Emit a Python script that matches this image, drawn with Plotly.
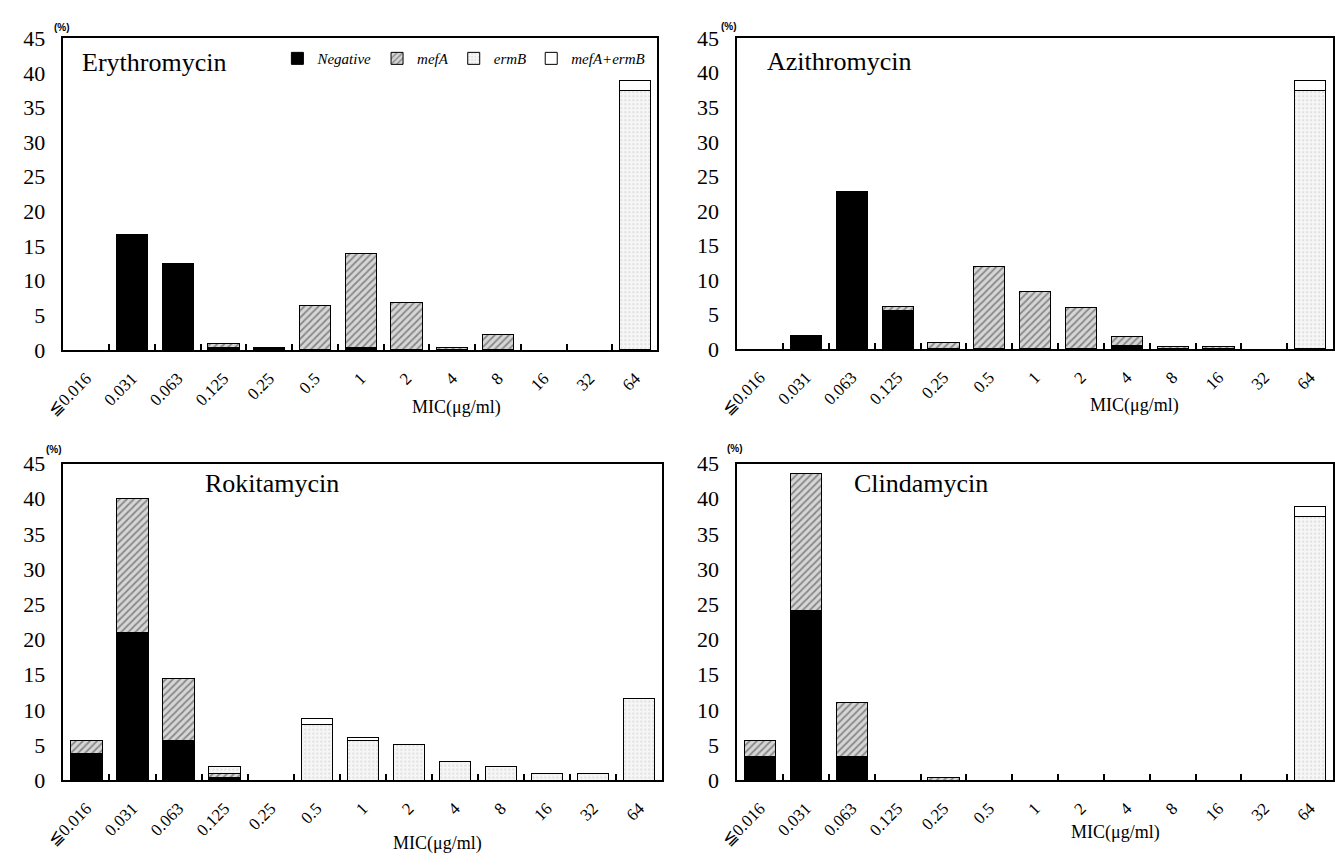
import plotly.graph_objects as go

categories = ["≦0.016", "0.031", "0.063", "0.125", "0.25", "0.5", "1", "2", "4", "8", "16", "32", "64"]
series_names = ["Negative", "mefA", "ermB", "mefA+ermB"]

# Erythromycin
ery_negative = [0, 16.7, 12.5, 0.3, 0.3, 0, 0.3, 0, 0, 0, 0, 0, 0]
ery_mefA     = [0, 0, 0, 0.6, 0, 6.4, 13.6, 6.8, 0.3, 2.2, 0, 0, 0]
ery_ermB     = [0, 0, 0, 0, 0, 0, 0, 0, 0, 0, 0, 0, 37.4]
ery_both     = [0, 0, 0, 0, 0, 0, 0, 0, 0, 0, 0, 0, 1.5]

# Azithromycin
azi_negative = [0, 1.9, 22.8, 5.6, 0, 0, 0, 0, 0.5, 0, 0, 0, 0]
azi_mefA     = [0, 0, 0, 0.5, 0.9, 12.0, 8.3, 6.0, 1.3, 0.3, 0.3, 0, 0]
azi_ermB     = [0, 0, 0, 0, 0, 0, 0, 0, 0, 0, 0, 0, 37.4]
azi_both     = [0, 0, 0, 0, 0, 0, 0, 0, 0, 0, 0, 0, 1.5]

# Rokitamycin
rok_negative = [3.8, 21.0, 5.6, 0.4, 0, 0, 0, 0, 0, 0, 0, 0, 0]
rok_mefA     = [1.8, 19.0, 8.8, 0.5, 0, 0, 0, 0, 0, 0, 0, 0, 0]
rok_ermB     = [0, 0, 0, 1.0, 0, 7.9, 5.6, 5.1, 2.7, 1.9, 0.9, 0.9, 11.6]
rok_both     = [0, 0, 0, 0, 0, 0.9, 0.4, 0, 0, 0, 0, 0, 0]

# Clindamycin
cli_negative = [3.3, 24.1, 3.3, 0, 0, 0, 0, 0, 0, 0, 0, 0, 0]
cli_mefA     = [2.3, 19.5, 7.8, 0, 0.4, 0, 0, 0, 0, 0, 0, 0, 0]
cli_ermB     = [0, 0, 0, 0, 0, 0, 0, 0, 0, 0, 0, 0, 37.5]
cli_both     = [0, 0, 0, 0, 0, 0, 0, 0, 0, 0, 0, 0, 1.4]

panels = [
    ("Erythromycin", [ery_negative, ery_mefA, ery_ermB, ery_both]),
    ("Azithromycin", [azi_negative, azi_mefA, azi_ermB, azi_both]),
    ("Rokitamycin", [rok_negative, rok_mefA, rok_ermB, rok_both]),
    ("Clindamycin", [cli_negative, cli_mefA, cli_ermB, cli_both]),
]

W, H = 1335, 867
# pixel geometry of each plot area: (left, right, y_of_zero, y_of_45)
geom = [
    (46, 648, 348, 27),
    (729, 1333, 347, 27),
    (46, 653, 791, 465),
    (729, 1333, 791, 465),
]
xranges = [[-0.5, 12.48], [-0.5, 12.5], [-0.5, 12.5], [-0.5, 12.5]]
title_pos = [(0.028, 41.5), (0.046, 41.6), (0.233, 42.2), (0.193, 42.2)]
mic_px = [(444, 407), (1132, 405), (425, 856), (1112, 845)]
pct_px = [(45, 16), (721, 15), (36, 451), (727, 449)]

SERIF = "Liberation Serif"

styles = [
    dict(color="black", line=dict(color="black", width=1)),
    dict(color="#cfcfcf", line=dict(color="black", width=1),
         pattern=dict(shape="/", fgcolor="#3a3a3a", bgcolor="#d6d6d6", size=5, solidity=0.35)),
    dict(color="#f4f4f4", line=dict(color="black", width=1),
         pattern=dict(shape=".", fgcolor="#8a8a8a", bgcolor="#f6f6f6", size=4, solidity=0.12)),
    dict(color="white", line=dict(color="black", width=1)),
]

fig = go.Figure()
annotations = []
layout_axes = {}
for i, (name, series) in enumerate(panels):
    k = "" if i == 0 else str(i + 1)
    xa, ya = "x" + k, "y" + k
    for j, vals in enumerate(series):
        fig.add_trace(go.Bar(
            x=categories, y=[v if v else None for v in vals],
            name="<i>%s</i>" % series_names[j],
            xaxis=xa, yaxis=ya, marker=styles[j],
            showlegend=(i == 0), legendgroup=series_names[j],
        ))
    l, r, y0, y45 = geom[i]
    layout_axes["xaxis" + k] = dict(
        domain=[l / W, r / W], anchor=ya, type="category",
        categoryorder="array", categoryarray=categories,
        range=xranges[i], tickangle=-45, ticks="inside", tickson="boundaries",
        ticklen=6, tickcolor="black", tickwidth=1.5,
        showline=True, linecolor="black", linewidth=1.5, mirror=True,
        showgrid=False, zeroline=False, ticklabelstandoff=10,
        tickfont=dict(family=SERIF, size=17, color="black"),
    )
    layout_axes["yaxis" + k] = dict(
        domain=[1 - y0 / H, 1 - y45 / H], anchor=xa,
        range=[0, 45], dtick=5, ticks="",
        showline=True, linecolor="black", linewidth=1.5, mirror=True,
        showgrid=False, zeroline=False, ticklabelstandoff=12,
        tickfont=dict(family=SERIF, size=22, color="black"),
    )
    tx, ty = title_pos[i]
    annotations.append(dict(
        text=name, xref=xa + " domain", yref=ya, x=tx, y=ty,
        xanchor="left", yanchor="middle", showarrow=False,
        font=dict(family=SERIF, size=26, color="black"),
    ))
    mx, my = mic_px[i]
    annotations.append(dict(
        text="MIC(μg/ml)", xref="paper", yref="paper", x=mx / W, y=1 - my / H,
        xanchor="center", yanchor="middle", showarrow=False,
        font=dict(family=SERIF, size=18, color="black"),
    ))
    px_, py_ = pct_px[i]
    annotations.append(dict(
        text="<b>(%)</b>", xref="paper", yref="paper", x=px_ / W, y=1 - py_ / H,
        xanchor="center", yanchor="middle", showarrow=False,
        font=dict(family="Liberation Sans", size=10, color="black"),
    ))

fig.update_layout(
    width=W, height=H,
    margin=dict(l=0, r=0, t=0, b=0),
    paper_bgcolor="white", plot_bgcolor="white",
    barmode="stack", bargap=0.32,
    annotations=annotations,
    legend=dict(
        orientation="h", x=452 / W, y=1 - 48 / H, xanchor="center", yanchor="middle",
        font=dict(family=SERIF, size=15, color="black"),
        itemwidth=30, bgcolor="rgba(0,0,0,0)", traceorder="normal",
        tracegroupgap=0, itemclick=False,
    ),
    **layout_axes,
)

fig.write_html("out.html", config={"displayModeBar": False},
               post_script="document.body.style.margin='0';document.body.style.overflow='hidden';")
